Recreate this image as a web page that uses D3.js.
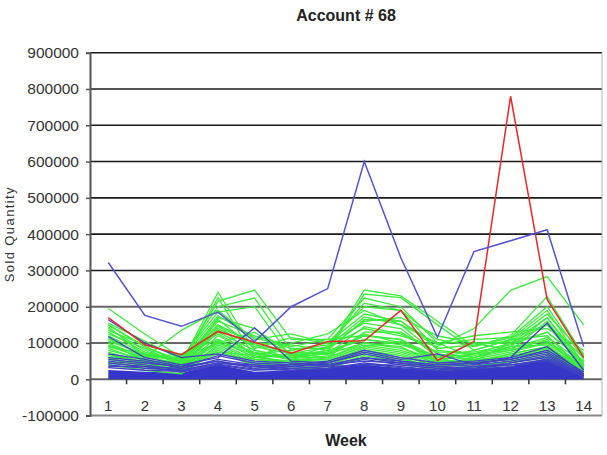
<!DOCTYPE html>
<html>
<head>
<meta charset="utf-8">
<script src="https://cdn.jsdelivr.net/npm/d3@7"></script>
<style>
  body { margin: 0; background: #fff; }
  text { font-family: "Liberation Sans", Arial, sans-serif; }
</style>
</head>
<body>
<script>
        //1. Consts/global variables
            const w = 607;
            const h = 455;
            const plotLeft = 90, plotRight = 602, plotTop = 52.7, plotBottom = 415.6;

        //2. Data (sold quantity, in thousands)
            const weeks = [1, 2, 3, 4, 5, 6, 7, 8, 9, 10, 11, 12, 13, 14];
            const yTicks = [-100000, 0, 100000, 200000, 300000, 400000, 500000, 600000, 700000, 800000, 900000];

            const redK = [170, 95, 68, 132, 102, 72, 104, 106, 190, 52, 104, 780, 220, 60];
            const blueSpikeK = [322, 176, 146, 185, 104, 200, 250, 600, 335, 116, 352, 382, 412, 90];

            const greenK = [
                [195, 125, 60, 100, 70, 60, 70, 120, 110, 60, 70, 100, 130, 50],
                [150, 90, 50, 150, 60, 70, 90, 140, 120, 90, 140, 245, 283, 150],
                [150, 90, 45, 240, 80, 60, 80, 246, 230, 160, 90, 120, 228, 65],
                [140, 80, 40, 225, 60, 65, 75, 235, 225, 150, 80, 110, 190, 40],
                [130, 75, 50, 215, 246, 110, 110, 224, 200, 100, 60, 90, 170, 35],
                [120, 70, 55, 200, 224, 80, 100, 200, 190, 80, 70, 80, 160, 30],
                [110, 65, 60, 185, 200, 60, 90, 172, 150, 70, 50, 100, 150, 30],
                [100, 60, 135, 190, 110, 125, 100, 155, 140, 60, 80, 110, 120, 25],
                [95, 55, 35, 170, 140, 70, 60, 130, 130, 70, 60, 80, 110, 20],
                [90, 60, 45, 160, 120, 90, 110, 120, 110, 50, 70, 90, 105, 40],
                [85, 50, 40, 150, 100, 95, 80, 110, 100, 60, 100, 80, 100, 30],
                [80, 55, 30, 140, 90, 70, 70, 100, 90, 40, 60, 90, 95, 20],
                [75, 45, 35, 130, 80, 60, 60, 95, 80, 50, 50, 70, 90, 25],
                [70, 40, 30, 120, 70, 55, 55, 90, 75, 45, 45, 65, 85, 20],
                [65, 45, 25, 110, 60, 50, 50, 85, 70, 40, 40, 60, 80, 15],
                [60, 35, 30, 100, 55, 45, 45, 80, 65, 35, 45, 55, 75, 15],
                [55, 40, 20, 95, 50, 40, 50, 75, 60, 30, 35, 50, 70, 10],
                [50, 30, 25, 90, 45, 35, 40, 70, 55, 35, 30, 45, 65, 12],
                [45, 35, 20, 85, 40, 40, 35, 65, 50, 30, 35, 50, 60, 10],
                [40, 25, 15, 80, 35, 30, 30, 60, 45, 25, 30, 40, 55, 8],
                [115, 60, 70, 110, 60, 100, 125, 190, 150, 100, 120, 130, 140, 80],
                [105, 70, 50, 100, 130, 65, 80, 165, 160, 85, 95, 105, 180, 70],
                [125, 85, 40, 135, 95, 75, 70, 145, 125, 75, 75, 95, 130, 50],
                [135, 95, 65, 125, 70, 80, 95, 210, 190, 110, 90, 115, 150, 60],
                [90, 70, 30, 145, 100, 50, 65, 125, 100, 55, 65, 85, 115, 45],
                [145, 65, 50, 165, 85, 115, 100, 180, 160, 95, 110, 115, 200, 55],
                [100, 50, 35, 105, 75, 55, 75, 110, 95, 65, 55, 75, 100, 35],
                [60, 50, 45, 75, 65, 45, 60, 100, 85, 55, 45, 70, 90, 30],
                [70, 45, 40, 70, 55, 50, 55, 90, 105, 45, 55, 60, 85, 25],
                [155, 105, 55, 175, 115, 85, 85, 160, 170, 120, 100, 100, 170, 45]
            ];

            const blueK = [
                [164, 100, 60, 70, 50, 45, 40, 60, 50, 40, 45, 55, 80, 20],
                [118, 60, 40, 60, 142, 50, 45, 75, 55, 70, 40, 60, 155, 25],
                [70, 55, 35, 65, 45, 40, 50, 80, 60, 45, 50, 60, 90, 15],
                [60, 50, 30, 55, 40, 35, 45, 70, 50, 40, 45, 55, 75, 15],
                [55, 45, 35, 50, 35, 40, 40, 60, 45, 35, 40, 50, 70, 12],
                [50, 40, 25, 45, 40, 30, 35, 55, 40, 30, 35, 45, 65, 10],
                [45, 35, 30, 50, 30, 35, 40, 50, 45, 35, 30, 45, 60, 10],
                [40, 30, 25, 45, 35, 25, 30, 45, 35, 25, 35, 40, 55, 8],
                [35, 35, 20, 40, 25, 30, 35, 40, 40, 30, 30, 40, 50, 8],
                [32, 25, 22, 42, 28, 25, 30, 42, 32, 25, 28, 35, 55, 10]
            ];

            // top of the solid band formed by the many small blue series
            const blueFloorK = [26, 21, 18, 40, 21, 25, 31, 40, 31, 25, 29, 35, 58, 12];

        //3. Scales
            const xScale = d3.scaleBand()
                             .domain(weeks)
                             .range([plotLeft, plotRight]);

            const yScale = d3.scaleLinear()
                             .domain([-100000, 900000])
                             .range([plotBottom, plotTop]);

            const xc = i => xScale(weeks[i]) + xScale.bandwidth() / 2;

        //4. SVG
            const svg = d3.select("body")
                          .append("svg")
                          .attr("width", w)
                          .attr("height", h);

        //5. Gridlines
            svg.append("g")
               .selectAll("line")
               .data(yTicks.filter(t => t >= 0))
               .enter()
               .append("line")
               .attr("x1", plotLeft)
               .attr("x2", plotRight)
               .attr("y1", d => yScale(d))
               .attr("y2", d => yScale(d))
               .attr("stroke", d => d <= 200000 ? "#666" : "#1a1a1a")
               .attr("stroke-width", d => d <= 200000 ? 2 : 1.6);

            // plot border (bottom and right)
            svg.append("line")
               .attr("x1", plotLeft).attr("x2", plotRight)
               .attr("y1", yScale(-100000)).attr("y2", yScale(-100000))
               .attr("stroke", "#888").attr("stroke-width", 2);
            svg.append("line")
               .attr("x1", plotRight).attr("x2", plotRight)
               .attr("y1", plotTop).attr("y2", plotBottom)
               .attr("stroke", "#b0b0b0").attr("stroke-width", 1);

        //6. Lines
            const line = d3.line()
                           .x((d, i) => xc(i))
                           .y(d => yScale(d * 1000));

            const area = d3.area()
                           .x((d, i) => xc(i))
                           .y0(yScale(0))
                           .y1(d => yScale(d * 1000));

            svg.append("path")
               .datum(blueFloorK)
               .attr("d", area)
               .attr("fill", "#3535c8");

            svg.append("g")
               .selectAll("path")
               .data(greenK)
               .enter()
               .append("path")
               .attr("d", line)
               .attr("fill", "none")
               .attr("stroke", "#3cec3c")
               .attr("stroke-width", 1.3);

            svg.append("g")
               .selectAll("path")
               .data(blueK)
               .enter()
               .append("path")
               .attr("d", line)
               .attr("fill", "none")
               .attr("stroke", "#4040c4")
               .attr("stroke-width", 1.3);

            svg.append("path")
               .datum(redK)
               .attr("d", line)
               .attr("fill", "none")
               .attr("stroke", "#e82828")
               .attr("stroke-width", 1.5);

            svg.append("path")
               .datum(blueSpikeK)
               .attr("d", line)
               .attr("fill", "none")
               .attr("stroke", "#5252d2")
               .attr("stroke-width", 1.5);

        //7. Axes
            const leftAxis = d3.axisLeft(yScale)
                               .tickValues(yTicks)
                               .tickFormat(d => String(d))   // plain hyphen for -100000
                               .tickSize(4)
                               .tickPadding(7);

            const gy = svg.append("g")
                          .attr("transform", "translate(" + plotLeft + ",0)")
                          .call(leftAxis);
            gy.select(".domain").attr("stroke", "#555").attr("stroke-width", 2);
            gy.selectAll(".tick line").attr("stroke", "#555").attr("stroke-width", 1.5);
            gy.selectAll("text").attr("font-size", 15.5).attr("fill", "#333");

            // category ticks between weeks, on the zero line
            svg.append("g")
               .selectAll("line")
               .data(weeks.slice(1))
               .enter()
               .append("line")
               .attr("x1", d => xScale(d))
               .attr("x2", d => xScale(d))
               .attr("y1", yScale(0))
               .attr("y2", yScale(0) + 5)
               .attr("stroke", "#333")
               .attr("stroke-width", 1.5);

            const bottomAxis = d3.axisBottom(xScale)
                                 .tickSize(0)
                                 .tickPadding(21);
            const gx = svg.append("g")
                          .attr("transform", "translate(0," + yScale(0) + ")")
                          .call(bottomAxis);
            gx.select(".domain").remove();
            gx.selectAll("text").attr("font-size", 15).attr("fill", "#333");

        //8. Titles
            svg.append("text")
               .attr("x", (plotLeft + plotRight) / 2)
               .attr("y", 21)
               .attr("text-anchor", "middle")
               .attr("font-size", 16)
               .attr("font-weight", "bold")
               .attr("fill", "#222")
               .text("Account # 68");

            svg.append("text")
               .attr("x", (plotLeft + plotRight) / 2)
               .attr("y", 446)
               .attr("text-anchor", "middle")
               .attr("font-size", 16)
               .attr("font-weight", "bold")
               .attr("fill", "#222")
               .text("Week");

            svg.append("text")
               .attr("transform", "translate(14," + ((plotTop + plotBottom) / 2) + ") rotate(-90)")
               .attr("text-anchor", "middle")
               .attr("font-size", 13)
               .attr("letter-spacing", 1.4)
               .attr("fill", "#333")
               .text("Sold Quantity");
</script>
</body>
</html>
